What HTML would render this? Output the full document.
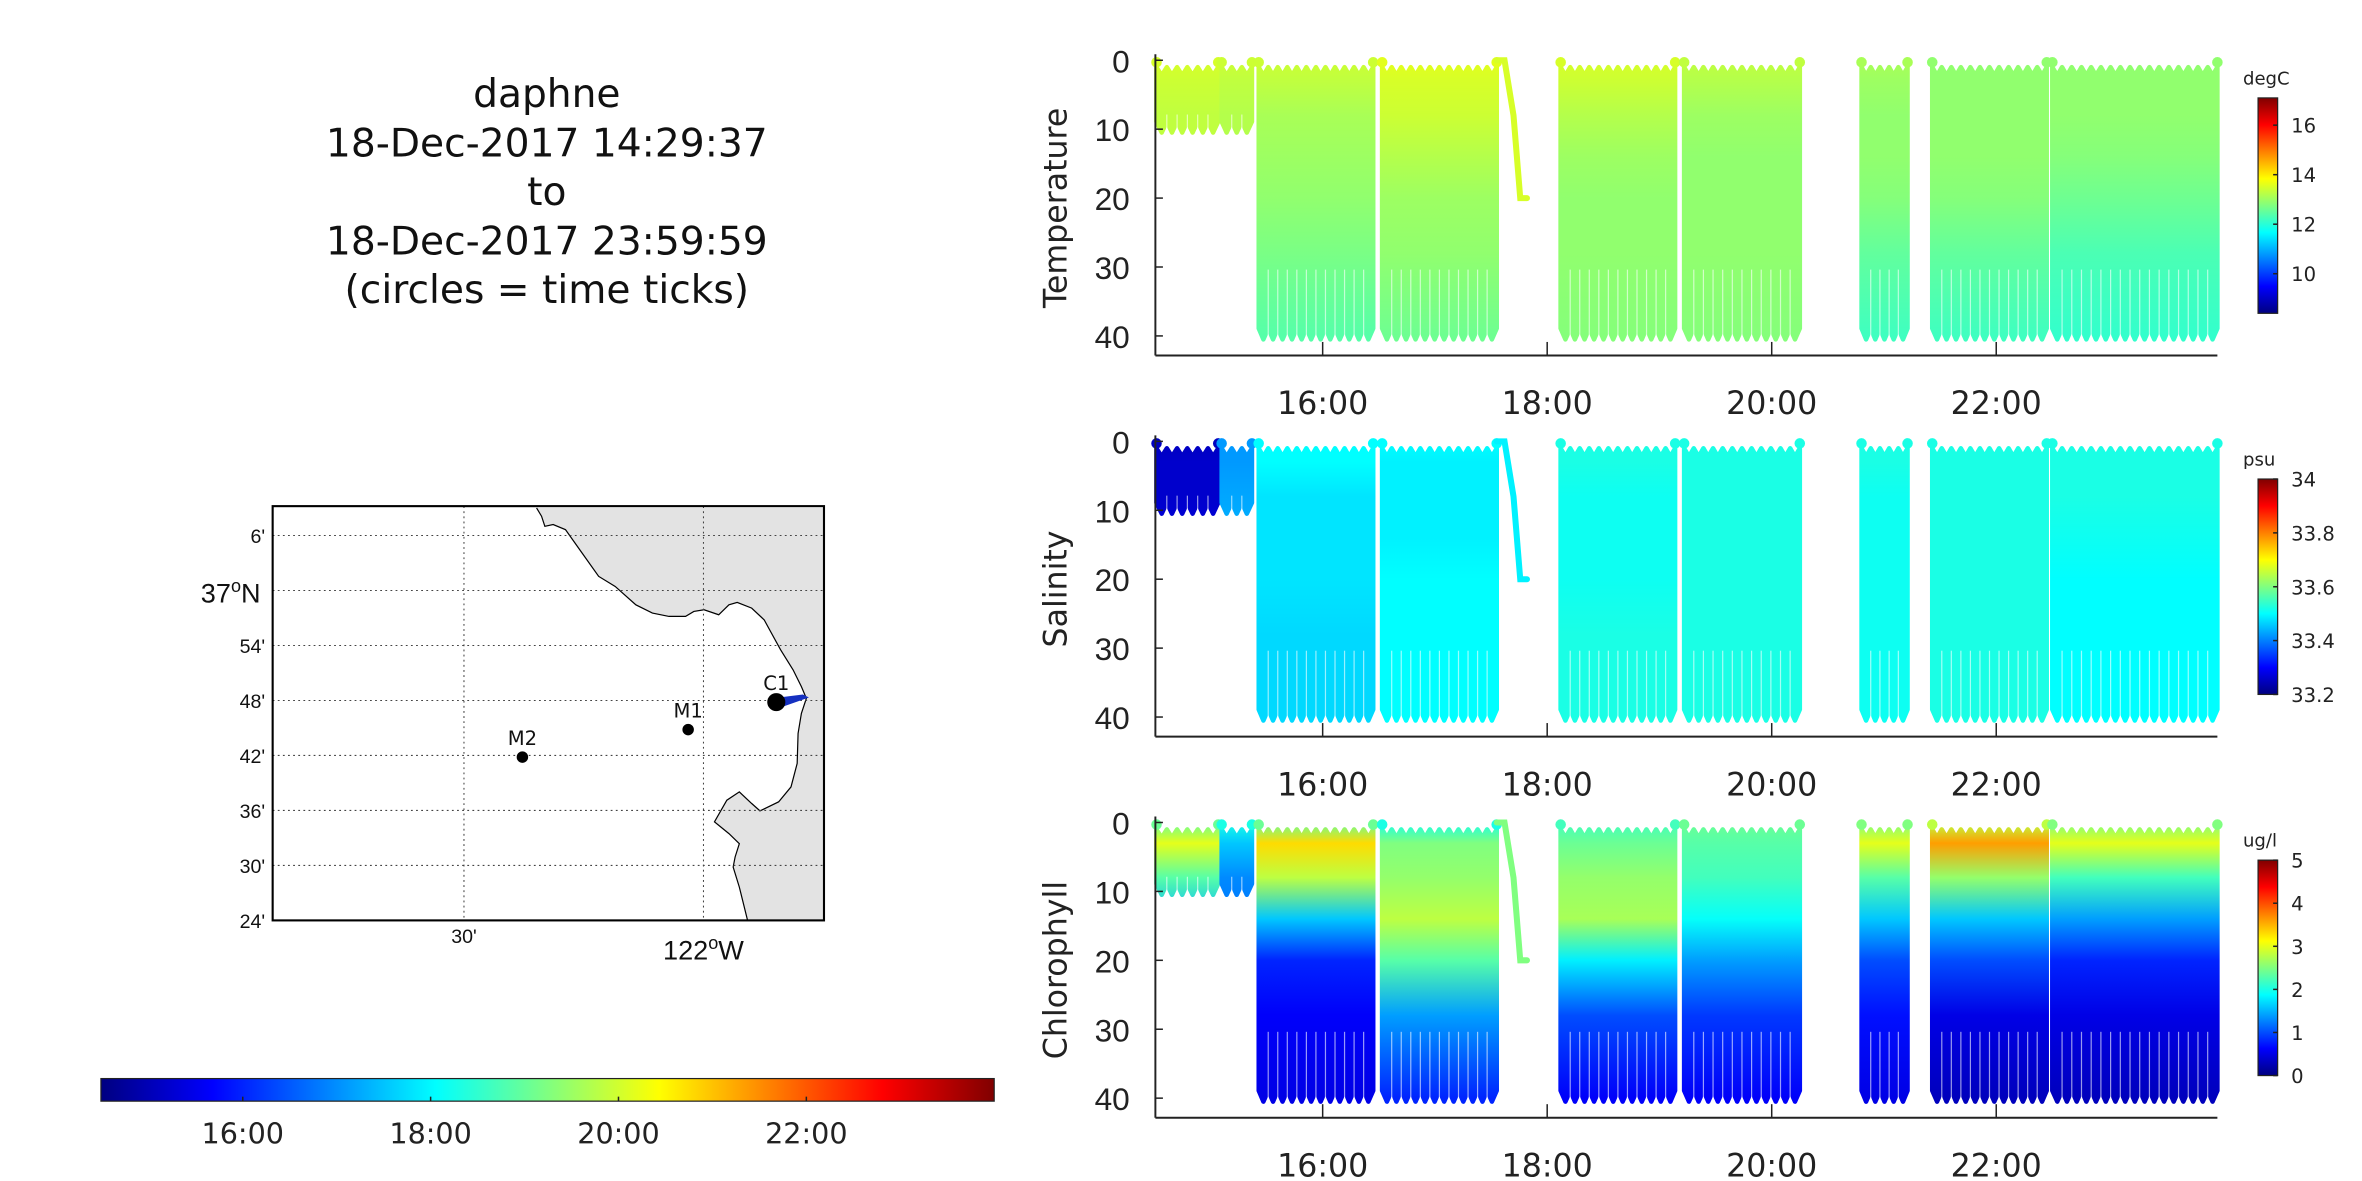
<!DOCTYPE html>
<html><head><meta charset="utf-8">
<style>
html,body{margin:0;padding:0;background:#fff;}
svg{display:block;font-family:"DejaVu Sans","Liberation Sans",sans-serif;}
</style></head>
<body>
<svg id="fig" width="2362" height="1181" viewBox="0 0 1568 784" xmlns="http://www.w3.org/2000/svg">
<defs id="defs"></defs>
<g font-size="26" text-anchor="middle" fill="#111">
<text x="363" y="71">daphne</text>
<text x="363" y="104">18-Dec-2017 14:29:37</text>
<text x="363" y="136">to</text>
<text x="363" y="169">18-Dec-2017 23:59:59</text>
<text x="363" y="201">(circles = time ticks)</text>
</g>
<g id="map"></g>
<g id="timebar"></g>
<g id="panels"></g>
</svg>
<script>
// ---- data ----
const hourTicks=[16,18,20,22];
const hourLabels=["16:00","18:00","20:00","22:00"];
const depthTicks=[0,10,20,30,40];
const segStart=[14.52,15.10,15.43,16.53,18.12,19.22,20.80,21.43,22.50];
const segEnd  =[15.07,15.37,16.45,17.55,19.14,20.25,21.21,22.45,23.97];
const segDepth=[10.5,10.5,40.5,40.5,40.5,40.5,40.5,40.5,40.5];
const profDepths=[0,3,8,14,20,28,40];
const tempProf=[
 [13.5,13.4,13.3,13.3,13.3,13.2,13.1],
 [13.4,13.3,13.2,13.2,13.2,13.2,13.1],
 [13.4,13.3,13.1,13.0,12.9,12.7,12.4],
 [13.6,13.5,13.4,13.2,13.0,12.9,12.6],
 [13.5,13.4,13.2,13.0,12.9,12.9,12.8],
 [13.3,13.2,13.0,12.9,12.9,12.9,12.8],
 [13.1,13.0,12.9,12.9,12.8,12.5,12.2],
 [12.9,12.9,12.9,12.9,12.8,12.5,12.2],
 [12.9,12.9,12.9,12.8,12.6,12.3,12.1]];
const salProf=[
 [33.25,33.26,33.26,33.27,33.27,33.27,33.27],
 [33.42,33.42,33.43,33.44,33.44,33.44,33.44],
 [33.50,33.50,33.48,33.48,33.48,33.47,33.47],
 [33.50,33.49,33.49,33.49,33.50,33.50,33.50],
 [33.52,33.52,33.51,33.51,33.51,33.52,33.52],
 [33.52,33.52,33.52,33.52,33.52,33.52,33.52],
 [33.52,33.52,33.51,33.51,33.51,33.51,33.51],
 [33.52,33.52,33.52,33.52,33.52,33.52,33.52],
 [33.52,33.52,33.52,33.51,33.50,33.50,33.50]];
const chlProf=[
 [2.4,3.0,2.3,1.5,1.5,1.5,1.5],
 [2.0,1.6,1.3,1.2,1.2,1.2,1.2],
 [2.4,3.3,2.8,1.6,0.8,0.6,0.5],
 [2.0,2.5,2.6,2.8,2.3,1.4,0.8],
 [2.2,2.4,2.6,2.7,1.8,1.0,0.6],
 [2.4,2.3,2.2,1.9,1.4,0.9,0.6],
 [2.5,3.0,2.3,1.6,1.0,0.7,0.5],
 [2.8,3.6,2.6,1.6,1.0,0.5,0.3],
 [2.5,3.0,2.2,1.4,0.8,0.5,0.3]];
const hookT=[17.55,17.62,17.70,17.76,17.82];
const hookD=[0,0,8,20,20];
const mapLatTicks=["6'","54'","48'","42'","36'","30'","24'"];
const mapLatVals=[66,54,48,42,36,30,24];
const stationNames=["M2","M1","C1"];
const stationLon=[-122.378,-122.032,-121.848];
const stationLat=[36.697,36.747,36.797];
// ---- helpers ----
const NS="http://www.w3.org/2000/svg";
function mk(tag,attrs,parent){const e=document.createElementNS(NS,tag);for(const k in attrs)e.setAttribute(k,attrs[k]);parent.appendChild(e);return e;}
function jet(t){t=Math.max(0,Math.min(1,t));const c=v=>Math.round(255*Math.max(0,Math.min(1,1.5-Math.abs(v))));return `rgb(${c(4*t-3)},${c(4*t-2)},${c(4*t-1)})`;}
const X0=767,X1=1472,H0=14.51,H1=23.97;
const xs=h=>X0+(h-H0)/(H1-H0)*(X1-X0);
const defs=document.getElementById('defs');
const panelsG=document.getElementById('panels');
const panels=[
 {name:'temperature',label:'Temperature',top:40,prof:tempProf,vmin:8.4,vmax:17.1,unit:'degC',ticks:[10,12,14,16]},
 {name:'salinity',label:'Salinity',top:293,prof:salProf,vmin:33.2,vmax:34.0,unit:'psu',ticks:[33.2,33.4,33.6,33.8,34]},
 {name:'chlorophyll',label:'Chlorophyll',top:546,prof:chlProf,vmin:0,vmax:5,unit:'ug/l',ticks:[0,1,2,3,4,5]}];
panels.forEach((p,pi)=>{
 const g=mk('g',{},panelsG);
 
 
 const ys=d=>p.top+d/40*183;
 const tn=v=>(v-p.vmin)/(p.vmax-p.vmin);
 segStart.forEach((s,i)=>{
  const e=segEnd[i],D=segDepth[i];
  const gid='g'+pi+'_'+i;
  const lg=mk('linearGradient',{id:gid,x1:0,y1:ys(0),x2:0,y2:ys(40),gradientUnits:'userSpaceOnUse'},defs);
  profDepths.forEach((d,k)=>mk('stop',{offset:d/40,'stop-color':jet(tn(p.prof[i][k]))},lg));
  const x0=xs(s),x1=xs(e);
  const n=Math.max(2,Math.round((x1-x0)/6.6));
  const w=(x1-x0)/n;
  let pts=[];
  for(let k=0;k<=n;k++){const x=x0+k*w;pts.push([x,ys(1.0)]);if(k<n)pts.push([x+w/2,ys(2.2)]);}
  for(let k=n;k>=0;k--){const x=x0+k*w;pts.push([x,ys(D-1.6)]);if(k>0)pts.push([x-w/2,ys(D)]);}
  const poly=mk('polygon',{points:pts.map(q=>q[0].toFixed(1)+','+q[1].toFixed(1)).join(' '),fill:`url(#${gid})`,stroke:`url(#${gid})`,'stroke-width':3,'stroke-linejoin':'round'},g);
  
  
  for(let k=1;k<n;k++){const x=x0+k*w;
   mk('line',{x1:x,y1:ys(D*0.75),x2:x,y2:ys(D-0.5),stroke:'#fff','stroke-width':0.8,'stroke-opacity':0.6},g);}
  [x0,x1].forEach(x=>{const c=mk('circle',{cx:x,cy:ys(0.3),r:3.5,fill:jet(tn(p.prof[i][0]))},g);
   
   });
 });
 const hk=mk('polyline',{points:hookT.map((h,k)=>xs(h)+','+ys(hookD[k])).join(' '),fill:'none',stroke:jet(tn(p.prof[3][1])),'stroke-width':4,'stroke-linecap':'round'},g);
 
 
 const by=p.top+196;
 mk('line',{x1:X0,y1:p.top-4,x2:X0,y2:by,stroke:'#222','stroke-width':1.3},g);
 mk('line',{x1:X0,y1:by,x2:X1,y2:by,stroke:'#222','stroke-width':1.3},g);
 depthTicks.forEach(d=>{
  mk('line',{x1:X0,y1:ys(d),x2:X0+5,y2:ys(d),stroke:'#222'},g);
  const t=mk('text',{x:750,y:ys(d)+8,'font-size':21,'text-anchor':'end',fill:'#222','font-family':'Liberation Sans Narrow, Liberation Sans, sans-serif'},g);t.textContent=d;
  
  
 });
 hourTicks.forEach((h,k)=>{
  mk('line',{x1:xs(h),y1:by,x2:xs(h),y2:by-9,stroke:'#222'},g);
  const t=mk('text',{x:xs(h),y:by+39,'font-size':21,'text-anchor':'middle',fill:'#222'},g);t.textContent=hourLabels[k];
  
  
 });
 const yl=mk('text',{x:0,y:0,'font-size':21,'text-anchor':'middle',fill:'#222',transform:`translate(708,${p.top+98}) rotate(-90)`},g);yl.textContent=p.label;
 
 
 const cbT=p.top+25,cbB=p.top+168;
 const cg='cb'+pi;
 const lg=mk('linearGradient',{id:cg,x1:0,y1:1,x2:0,y2:0},defs);
 for(let k=0;k<=8;k++)mk('stop',{offset:k/8,'stop-color':jet(k/8)},lg);
 const cb=mk('rect',{x:1499,y:cbT,width:13,height:cbB-cbT,fill:`url(#${cg})`,stroke:'#222','stroke-width':0.8},g);
 
 
 const u=mk('text',{x:1489,y:cbT-9,'font-size':12,fill:'#222'},g);u.textContent=p.unit;
 
 
 p.ticks.forEach(v=>{const y=cbB-(v-p.vmin)/(p.vmax-p.vmin)*(cbB-cbT);
  mk('line',{x1:1509,y1:y,x2:1512,y2:y,stroke:'#222'},g);
  const t=mk('text',{x:1521,y:y+5,'font-size':13,fill:'#222'},g);t.textContent=v;
  
  });
});
(function(){
 const g=document.getElementById('timebar');
 const lg=mk('linearGradient',{id:'tcb',x1:0,y1:0,x2:1,y2:0},defs);
 for(let k=0;k<=8;k++)mk('stop',{offset:k/8,'stop-color':jet(k/8)},lg);
 mk('rect',{x:67,y:716,width:593,height:15,fill:'url(#tcb)',stroke:'#222','stroke-width':0.8},g);
 const tx=h=>67+(h-14.49)/(24-14.49)*593;
 hourTicks.forEach((h,k)=>{mk('line',{x1:tx(h),y1:728,x2:tx(h),y2:731,stroke:'#222'},g);
  const t=mk('text',{x:tx(h),y:759,'font-size':19,'text-anchor':'middle',fill:'#222'},g);t.textContent=hourLabels[k];
  
  });
})();
(function(){
 const g=document.getElementById('map');
 const L=181,R=547,T=336,B=611;
 const zx=v=>133.8+v*0.2746, zy=v=>318.3+v*0.2218;
 const coast=[[810,85],[822,110],[830,140],[850,135],[880,150],[920,220],[960,290],[1000,320],[1050,375],[1090,400],[1130,410],[1170,410],[1190,395],[1215,390],[1250,405],[1275,375],[1295,368],[1330,385],[1360,420],[1400,510],[1430,570],[1450,620],[1462,655],[1450,700],[1442,760],[1440,850],[1425,920],[1395,965],[1350,992],[1330,970],[1300,935],[1270,960],[1240,1025],[1275,1060],[1300,1090],[1290,1130],[1285,1160],[1300,1220],[1320,1320]];
 const land=coast.concat([[1505,1320],[1505,85]]);
 mk('rect',{x:L,y:T,width:R-L,height:B-T,fill:'#fff'},g);
 const lp=mk('polygon',{points:land.map(q=>zx(q[0]).toFixed(1)+','+zy(q[1]).toFixed(1)).join(' '),fill:'#e3e3e3',stroke:'none'},g);
 
 
 const cl=mk('polyline',{points:coast.map(q=>zx(q[0]).toFixed(1)+','+zy(q[1]).toFixed(1)).join(' '),fill:'none',stroke:'#000','stroke-width':0.8},g);
 
 
 const latY=v=>392-(v-60)*(36.5/6);
 const lonX=m=>467-(m)*(159/30);
 [66,60,54,48,42,36,30].forEach(v=>mk('line',{x1:L,y1:latY(v),x2:R,y2:latY(v),stroke:'#444','stroke-width':0.7,'stroke-dasharray':'1.2,2.2'},g));
 [30,0].forEach(m=>mk('line',{x1:lonX(m),y1:T,x2:lonX(m),y2:B,stroke:'#444','stroke-width':0.7,'stroke-dasharray':'1.2,2.2'},g));
 mapLatVals.forEach((v,k)=>{const t=mk('text',{x:176,y:latY(v)+5,'font-size':13,'text-anchor':'end',fill:'#111','font-family':'Liberation Sans, sans-serif'},g);t.textContent=mapLatTicks[k];
  
  });
 const n37=mk('text',{x:173,y:400,'font-size':18,'text-anchor':'end',fill:'#111','font-family':'Liberation Sans, sans-serif'},g);
 n37.innerHTML='37<tspan dy="-7" font-size="12">o</tspan><tspan dy="7">N</tspan>';
 
 
 const t30=mk('text',{x:lonX(30),y:626,'font-size':13,'text-anchor':'middle',fill:'#111','font-family':'Liberation Sans, sans-serif'},g);t30.textContent="30'";
 
 
 const w=mk('text',{x:467,y:637,'font-size':18,'text-anchor':'middle',fill:'#111','font-family':'Liberation Sans, sans-serif'},g);
 w.innerHTML='122<tspan dy="-7" font-size="12">o</tspan><tspan dy="7">W</tspan>';
 
 
 const tr=mk('polygon',{points:'517,463 533,461 537,463 520,469',fill:'#1530c0'},g);
 
 
 stationNames.forEach((s,k)=>{
  const cx=467+(stationLon[k]+122)*60*(159/30), cy=latY((stationLat[k]-36)*60);
  const c=mk('circle',{cx:cx,cy:cy,r:k==2?6:3.8,fill:'#000'},g);
  
  
  const t=mk('text',{x:cx,y:cy-8,'font-size':13,'text-anchor':'middle',fill:'#111'},g);t.textContent=s;
  
  
 });
 mk('rect',{x:L,y:T,width:R-L,height:B-T,fill:'none',stroke:'#000','stroke-width':1.4},g);
})();
</script>
</body></html>
